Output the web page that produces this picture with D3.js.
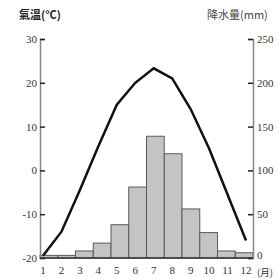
<!DOCTYPE html>
<html>
<head>
<meta charset="utf-8">
<script src="https://cdn.jsdelivr.net/npm/d3@7"></script>
<style>
  body { margin: 0; background: #fff; }
  text { font-family: "Liberation Serif", "DejaVu Serif", serif; }
  .cjk { font-family: "Noto Sans CJK TC", "Noto Sans CJK SC", sans-serif; }
</style>
</head>
<body>
<svg id="chart" width="278" height="279"></svg>
<script>
// 数据
var months = ["1","2","3","4","5","6","7","8","9","10","11","12"];
var temps = [-19.5, -14, -4.5, 5.5, 15, 20, 23.3, 21, 14, 5, -5.5, -16];
var precip = [3, 3, 8, 17, 38, 81, 139, 119, 56, 29, 8, 6];
var tempTicks = [-20, -10, 0, 10, 20, 30];
var precipTicks = [0, 50, 100, 150, 200, 250];

var svg = d3.select("#chart");

// 注意: 不能用 top 作变量名 (window.top)
var padL = 40, padR = 253, padT = 39, padB = 258;

// 比例尺
var xBand = d3.scaleBand().domain(months).range([padL, padR]).padding(0);
var xPoint = d3.scalePoint().domain(months).range([43, 246]);
var yT = d3.scaleLinear().domain([-20, 30]).range([padB, padT]);
var yP = d3.scaleLinear().domain([0, 250]).range([padB, padT]);

// 柱子
svg.selectAll("rect.bar")
   .data(precip)
   .enter().append("rect")
   .attr("class", "bar")
   .attr("x", function (d, i) { return xBand(months[i]); })
   .attr("y", function (d) { return yP(d); })
   .attr("width", xBand.bandwidth())
   .attr("height", function (d) { return padB - yP(d); })
   .attr("fill", "#c4c4c4")
   .attr("stroke", "#5a5a5a")
   .attr("stroke-width", 1);

// 坐标轴
var axisL = d3.axisRight(yT).tickValues(tempTicks).tickSize(5).tickFormat("");
var gL = svg.append("g").attr("transform", "translate(" + padL + ",0)").call(axisL);
var axisR = d3.axisLeft(yP).tickValues(precipTicks).tickSize(5).tickFormat("");
var gR = svg.append("g").attr("transform", "translate(" + padR + ",0)").call(axisR);
[gL, gR].forEach(function (g) {
  g.select(".domain").attr("stroke", "#888").attr("stroke-width", 1.5);
  g.selectAll(".tick line").attr("stroke", "#222").attr("stroke-width", 1.5);
});

svg.append("line")
   .attr("x1", padL).attr("x2", padR)
   .attr("y1", padB).attr("y2", padB)
   .attr("stroke", "#333").attr("stroke-width", 1.5);

// 刻度文字
svg.selectAll("text.tl")
   .data(tempTicks)
   .enter().append("text")
   .attr("class", "tl")
   .attr("x", 37)
   .attr("y", function (d) { return yT(d) + 4; })
   .attr("text-anchor", "end")
   .attr("font-size", 11)
   .attr("fill", "#333")
   .text(function (d) { return d; });

svg.selectAll("text.tr")
   .data(precipTicks)
   .enter().append("text")
   .attr("class", "tr")
   .attr("x", 257)
   .attr("y", function (d) { return yP(d) + (d === 0 ? 1 : 4); })
   .attr("font-size", 11)
   .attr("fill", "#333")
   .text(function (d) { return d; });

svg.selectAll("text.mon")
   .data(months)
   .enter().append("text")
   .attr("class", "mon")
   .attr("x", function (d) { return xPoint(d); })
   .attr("y", 274)
   .attr("text-anchor", "middle")
   .attr("font-size", 11)
   .attr("fill", "#333")
   .text(function (d) { return d; });

svg.append("text").attr("class", "cjk")
   .attr("x", 257).attr("y", 276)
   .attr("font-size", 9.5).attr("fill", "#333")
   .text("(月)");

svg.append("text").attr("class", "cjk")
   .attr("x", 19).attr("y", 19)
   .attr("font-size", 11).attr("fill", "#222").attr("font-weight", "bold")
   .text("氣溫(°C)");

svg.append("text").attr("class", "cjk")
   .attr("x", 207).attr("y", 19)
   .attr("font-size", 11).attr("fill", "#444")
   .text("降水量(mm)");

// 气温折线
var line = d3.line()
   .x(function (d, i) { return xPoint(months[i]); })
   .y(function (d) { return yT(d); });

svg.append("path")
   .datum(temps)
   .attr("d", line)
   .attr("fill", "none")
   .attr("stroke", "#111")
   .attr("stroke-width", 2.5);
</script>
</body>
</html>
